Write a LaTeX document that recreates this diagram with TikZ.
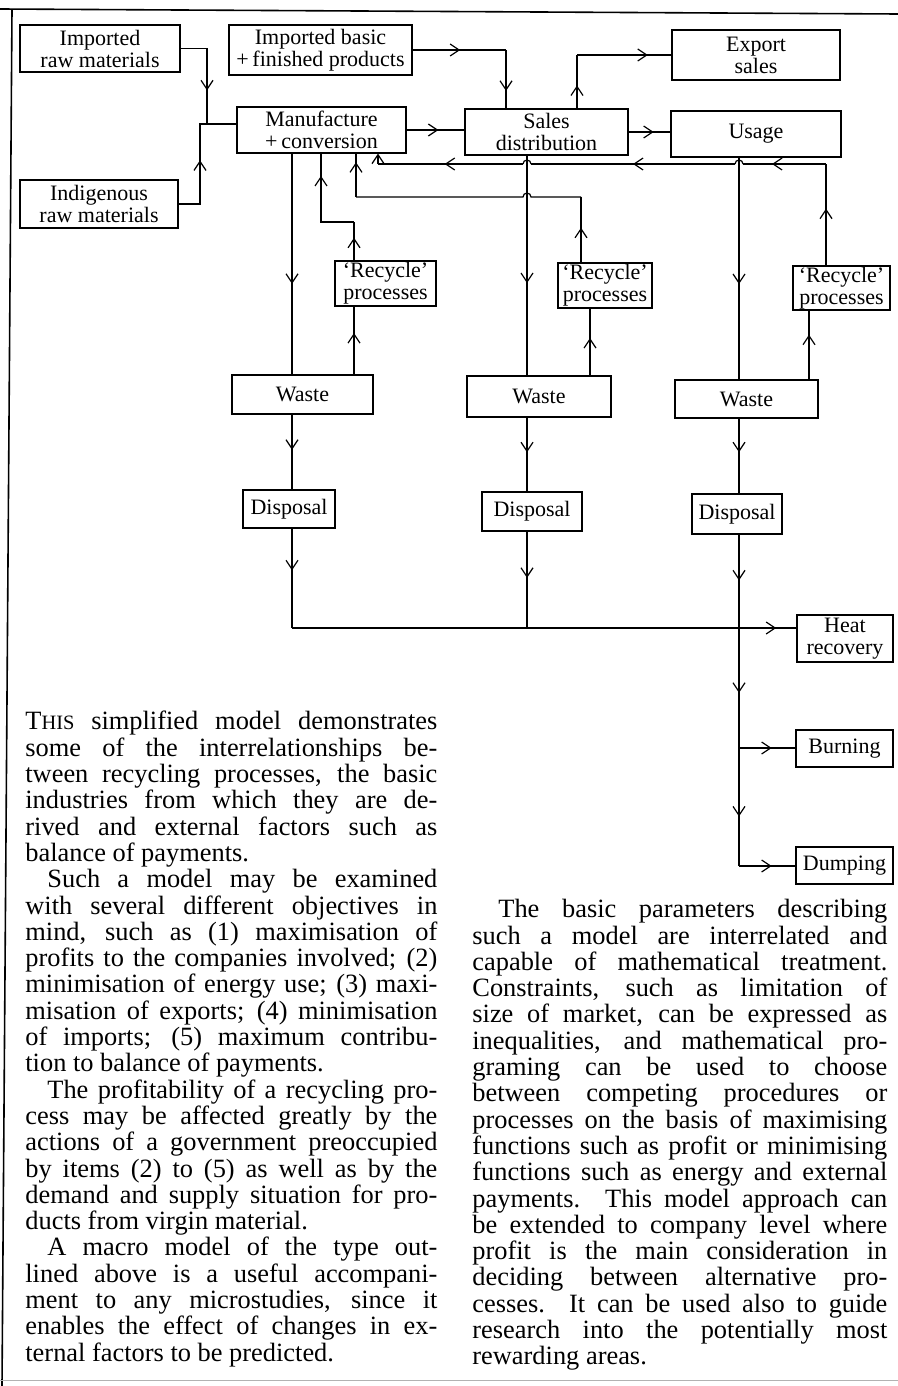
\documentclass[tikz,border=0pt]{standalone}
\usepackage{fontspec}
\setmainfont{Liberation Serif}
\usetikzlibrary{arrows.meta,decorations.markings}
\newcommand\boxfont{\fontsize{11}{11}\selectfont}
\newcommand\colfont{\fontsize{13.2}{13.15}\selectfont}
\newcommand\LB{\linebreak}
\newcommand\colsetup{\tolerance=10000\hbadness=10000\hyphenpenalty=10000\parindent=0pt\parskip=0pt\relax}
\begin{document}
\begin{tikzpicture}[x=0.5pt,y=-0.5pt,
 ln/.style={line width=0.6pt},
 box/.style={draw,line width=0.6pt,align=center,inner sep=0.5pt,font=\boxfont},
 ar/.style={postaction={decorate,decoration={markings,mark=at position #1 with {\arrow{Straight Barb[length=4.5pt,width=6pt,line width=0.6pt]}}}}},
 endar/.style={-{Straight Barb[length=4.5pt,width=6pt,line width=0.6pt]}},
 txt/.style={anchor=north west,inner sep=0pt,align=justify,font=\colfont},
]
\useasboundingbox (0,0) rectangle (898,1386);
\fill[white] (0,0) rectangle (898,1386);
% frame
\draw[line width=0.8pt] (0,9) -- (898,14);
\draw[line width=0.8pt] (12,10) -- (2,1386);
\draw[gray!60,line width=0.4pt] (0,1380) -- (898,1380);
% boxes
\node[box,minimum width=80pt,minimum height=23.5pt] (imr) at (100,48.5) {Imported\\raw materials};
\node[box,minimum width=91.5pt,minimum height=25pt] (imb) at (320.5,50) {Imported basic\\+\,finished products};
\node[box,minimum width=84pt,minimum height=25pt] (exp) at (756,55) {Export\\sales};
\node[box,minimum width=84.5pt,minimum height=23pt] (man) at (321.5,130) {Manufacture\\+\,conversion};
\node[box,minimum width=81.5pt,minimum height=23pt] (sal) at (546.5,132) {Sales\\distribution};
\node[box,minimum width=85pt,minimum height=23pt] (use) at (756,134) {Usage};
\node[box,minimum width=79pt,minimum height=24pt] (ind) at (99,204) {Indigenous\\raw materials};
\node[box,minimum width=50.5pt,minimum height=22.5pt] (rc1) at (385.5,283.5) {`Recycle'\\processes};
\node[box,minimum width=47pt,minimum height=22.5pt] (rc2) at (605,285.5) {`Recycle'\\processes};
\node[box,minimum width=48.5pt,minimum height=21pt] (rc3) at (841.5,288) {`Recycle'\\processes};
\node[box,minimum width=70.5pt,minimum height=19.5pt] (ws1) at (302.5,394.5) {Waste};
\node[box,minimum width=72pt,minimum height=20.5pt] (ws2) at (539,396.5) {Waste};
\node[box,minimum width=71.5pt,minimum height=19pt] (ws3) at (746.5,399) {Waste};
\node[box,minimum width=46pt,minimum height=19pt] (dp1) at (289,509) {Disposal};
\node[box,minimum width=50pt,minimum height=19.5pt] (dp2) at (532,511.5) {Disposal};
\node[box,minimum width=45pt,minimum height=20pt] (dp3) at (737,514) {Disposal};
\node[box,minimum width=48pt,minimum height=23.5pt] (heat) at (845,638.5) {Heat\\recovery};
\node[box,minimum width=48.5pt,minimum height=18.5pt] (burn) at (844.5,748.5) {Burning};
\node[box,minimum width=48.5pt,minimum height=18.5pt] (dump) at (844.5,865.5) {Dumping};
% coordinates
\coordinate (j1) at (207,124);
\coordinate (j2) at (200,124);
\coordinate (cb) at (506,50);
\coordinate (ce) at (577,55);
\coordinate (xa) at (292,0);
\coordinate (xb) at (527,0);
\coordinate (xc) at (739,0);
\coordinate (h1) at (292,628);
\coordinate (h2) at (527,628);
\coordinate (k0) at (739,628);
\coordinate (b1) at (739,748);
\coordinate (b2) at (739,866);
\coordinate (r1) at (354,0);
\coordinate (r2) at (590,0);
\coordinate (r2t) at (581,0);
\coordinate (r3) at (809,0);
\coordinate (r3t) at (826,0);
\coordinate (f1a) at (826,164);
\coordinate (hp1r) at (743,164);
\coordinate (hp1l) at (735,164);
\coordinate (hp1b) at (531,164);
\coordinate (hp1c) at (523,164);
\coordinate (f1b) at (378,164);
\coordinate (f2a) at (581,197);
\coordinate (hp2r) at (531,197);
\coordinate (f2b) at (356,197);
\coordinate (f3a) at (354,222);
\coordinate (f3b) at (321,222);
% inputs
\draw[ln,ar=0.67] (imr.east) -| (j1);
\draw[ln] (j1) -- (man.west |- j1);
\draw[ln,ar=0.6] (ind.east) -| (j2) -- (j1);
\draw[ln,ar=0.55] (man.east) -- (man.east -| sal.west);
\draw[ln,ar=0.51] (imb.east) -- (cb);
\draw[ln,ar=0.7] (cb) -- (cb |- sal.north);
\draw[ln,ar=0.43] (sal.north -| ce) -- (ce);
\draw[ln,ar=0.75] (ce) -- (ce -| exp.west);
\draw[ln,ar=0.6] (sal.east) -- (sal.east -| use.west);
% column 1
\draw[ln,ar=0.59] (man.south -| xa) -- (ws1.north -| xa);
\draw[ln,ar=0.47] (ws1.south -| xa) -- (dp1.north -| xa);
\draw[ln,ar=0.42] (dp1.south -| xa) -- (h1);
\draw[ln,ar=0.96] (h1) -- (heat.west |- h1);
% column 2
\draw[ln,ar=0.58] (sal.south -| xb) -- (ws2.north -| xb);
\draw[ln,ar=0.47] (ws2.south -| xb) -- (dp2.north -| xb);
\draw[ln,ar=0.48] (dp2.south -| xb) -- (h2);
% column 3
\draw[ln,ar=0.57] (use.south -| xc) -- (ws3.north -| xc);
\draw[ln,ar=0.45] (ws3.south -| xc) -- (dp3.north -| xc);
\draw[ln,ar=0.49] (dp3.south -| xc) -- (k0);
\draw[ln,ar=0.54] (k0) -- (b1);
\draw[ln,ar=0.58] (b1) -- (b2);
\draw[ln,ar=0.58] (b1) -- (b1 -| burn.west);
\draw[ln,ar=0.58] (b2) -- (b2 -| dump.west);
% waste to recycle
\draw[ln,ar=0.61] (ws1.north -| r1) -- (rc1.south -| r1);
\draw[ln,ar=0.56] (ws2.north -| r2) -- (rc2.south -| r2);
\draw[ln,ar=0.65] (ws3.north -| r3) -- (rc3.south -| r3);
% recycle feedback
\draw[ln,ar=0.59] (rc1.north -| r1) -- (f3a);
\draw[ln,ar=0.78] (f3a) -- (f3b) -- (man.south -| f3b);
\draw[ln,ar=0.53] (rc2.north -| r2t) -- (f2a);
\draw[ln] (f2a) -- (hp2r) arc[start angle=0,end angle=180,radius=2pt] -- (f2b);
\draw[ln,ar=0.8] (f2b) -- (man.south -| f2b);
\draw[ln,ar=0.56] (rc3.north -| r3t) -- (f1a);
\draw[ln,ar=0.65] (f1a) -- (hp1r);
\draw[ln] (hp1r) arc[start angle=0,end angle=180,radius=2pt];
\draw[ln,ar=0.5] (hp1l) -- (hp1b);
\draw[ln] (hp1b) arc[start angle=0,end angle=180,radius=2pt];
\draw[ln,ar=0.54] (hp1c) -- (f1b);
\draw[ln,endar] (f1b) -- (man.south -| f1b);
% text
\node[txt,text width=206pt] (colA) at (25,711) {\colsetup
T{\fontsize{10.2}{13.15}\selectfont HIS} simplified model demonstrates\LB
some of the interrelationships be-\LB
tween recycling processes, the basic\LB
industries from which they are de-\LB
rived and external factors such as\LB
balance of payments.\par
\hspace*{11pt}Such a model may be examined\LB
with several different objectives in\LB
mind, such as (1) maximisation of\LB
profits to the companies involved; (2)\LB
minimisation of energy use; (3) maxi-\LB
misation of exports; (4) minimisation\LB
of imports; (5) maximum contribu-\LB
tion to balance of payments.\par
\hspace*{11pt}The profitability of a recycling pro-\LB
cess may be affected greatly by the\LB
actions of a government preoccupied\LB
by items (2) to (5) as well as by the\LB
demand and supply situation for pro-\LB
ducts from virgin material.\par
\hspace*{11pt}A macro model of the type out-\LB
lined above is a useful accompani-\LB
ment to any microstudies, since it\LB
enables the effect of changes in ex-\LB
ternal factors to be predicted.\par};
\node[txt,text width=207.5pt] (colB) at (472,899) {\colsetup
\hspace*{13pt}The basic parameters describing\LB
such a model are interrelated and\LB
capable of mathematical treatment.\LB
Constraints, such as limitation of\LB
size of market, can be expressed as\LB
inequalities, and mathematical pro-\LB
graming can be used to choose\LB
between competing procedures or\LB
processes on the basis of maximising\LB
functions such as profit or minimising\LB
functions such as energy and external\LB
payments. This model approach can\LB
be extended to company level where\LB
profit is the main consideration in\LB
deciding between alternative pro-\LB
cesses. It can be used also to guide\LB
research into the potentially most\LB
rewarding areas.\par};
\end{tikzpicture}
\end{document}
